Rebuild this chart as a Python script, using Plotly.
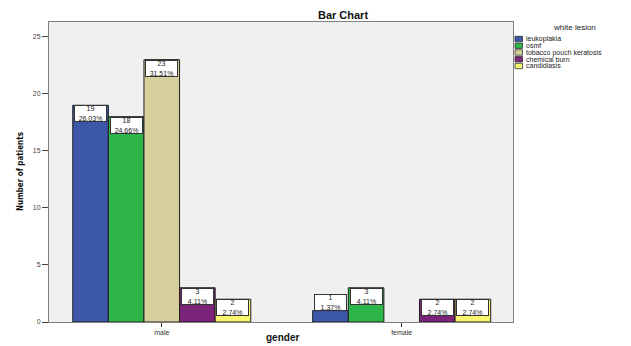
import plotly.graph_objects as go

# Counts of white lesions by gender (percentages are of the 73 patients)
genders = ["male", "female"]
lesions = ["leukoplakia", "osmf", "tobacco pouch keratosis", "chemical burn", "candidiasis"]
counts = {
    "leukoplakia": [19, 1],
    "osmf": [18, 3],
    "tobacco pouch keratosis": [23, 0],
    "chemical burn": [3, 2],
    "candidiasis": [2, 2],
}
percents = {
    "leukoplakia": ["26.03%", "1.37%"],
    "osmf": ["24.66%", "4.11%"],
    "tobacco pouch keratosis": ["31.51%", ""],
    "chemical burn": ["4.11%", "2.74%"],
    "candidiasis": ["2.74%", "2.74%"],
}
colors = ["#3C56A8", "#2EB64A", "#D5D09B", "#7C2479", "#F8F66E"]

FONT = "Liberation Sans, Arial, sans-serif"
W, H = 631, 346
L, R, T, B = 49, 118, 22, 24
BARGAP = 0.258
Y_MAX = 26.3

fig = go.Figure()
for name, col in zip(lesions, colors):
    fig.add_trace(go.Bar(
        x=genders,
        y=[v if v else None for v in counts[name]],
        name=name,
        marker=dict(color=col, line=dict(color="#1f1f1f", width=1)),
        showlegend=False,
    ))

# Boxed value labels at the top of each bar
n = len(lesions)
group_w = 1 - BARGAP
bar_w = group_w / n
plot_h_px = H - T - B
units_per_px = Y_MAX / plot_h_px
box_units = 16 * units_per_px
annotations = []
for i, name in enumerate(lesions):
    off = -group_w / 2 + bar_w * (i + 0.5)
    for g, v in enumerate(counts[name]):
        if not v:
            continue
        annotations.append(dict(
            x=g + off, y=v, xref="x", yref="y",
            text=f"{v}<br>{percents[name][g]}",
            showarrow=False,
            yanchor="top" if v > box_units else "bottom",
            font=dict(family=FONT, size=7, color="#222"),
            bgcolor="white", bordercolor="#333", borderwidth=1, borderpad=0,
            width=31, height=15, align="center", valign="middle",
        ))

# Legend drawn as a compact list at the right of the plot
plot_w_px = W - L - R


def px_x(px):
    return (px - L) / plot_w_px


def px_y(py):
    return (H - B - py) / plot_h_px


shapes = []
annotations.append(dict(
    x=px_x(574), y=px_y(27), xref="paper", yref="paper", text="white lesion",
    showarrow=False, xanchor="center", yanchor="middle",
    font=dict(family=FONT, size=8, color="#222"),
))
for k, (name, col) in enumerate(zip(lesions, colors)):
    cy = 39 + 6.75 * k
    shapes.append(dict(
        type="rect", xref="paper", yref="paper",
        x0=px_x(515), x1=px_x(522.5), y0=px_y(cy + 2.7), y1=px_y(cy - 2.7),
        fillcolor=col, line=dict(color="#333", width=0.8),
    ))
    annotations.append(dict(
        x=px_x(523.5), y=px_y(cy), xref="paper", yref="paper", text=name,
        showarrow=False, xanchor="left", yanchor="middle",
        font=dict(family=FONT, size=7, color="#222"),
    ))

# Axis titles placed explicitly so the plot area keeps its size
annotations.append(dict(
    x=px_x(282), y=px_y(338), xref="paper", yref="paper", text="<b>gender</b>",
    showarrow=False, xanchor="center", yanchor="middle",
    font=dict(family=FONT, size=10, color="#111"),
))
annotations.append(dict(
    x=px_x(20), y=px_y(172), xref="paper", yref="paper",
    text="<b>Number of patients</b>", textangle=-90,
    showarrow=False, xanchor="center", yanchor="middle",
    font=dict(family="DejaVu Sans Condensed, Liberation Sans Narrow, sans-serif",
              size=8, color="#111"),
))

fig.update_layout(
    width=W, height=H,
    margin=dict(l=L, r=R, t=T, b=B, pad=0),
    paper_bgcolor="white",
    plot_bgcolor="#F0F0F0",
    barmode="group", bargap=BARGAP, bargroupgap=0,
    title=dict(text="<b>Bar Chart</b>", x=px_x(343), xref="paper", xanchor="center",
               y=1 - 15 / H, yanchor="middle",
               font=dict(family=FONT, size=11, color="#111")),
    annotations=annotations,
    shapes=shapes,
    xaxis=dict(
        range=[-0.47, 1.464], showgrid=False, showline=True, mirror=True,
        linecolor="#808080", linewidth=1, automargin=False,
        ticks="outside", ticklen=4, tickcolor="#333",
        tickfont=dict(family=FONT, size=7, color="#333"),
    ),
    yaxis=dict(
        range=[0, Y_MAX], tickvals=[0, 5, 10, 15, 20, 25],
        showgrid=False, zeroline=False, showline=True, mirror=True,
        linecolor="#808080", linewidth=1, automargin=False,
        ticks="outside", ticklen=6, tickcolor="#444",
        tickfont=dict(family=FONT, size=7, color="#444"),
    ),
)

fig.write_html("out.html")
